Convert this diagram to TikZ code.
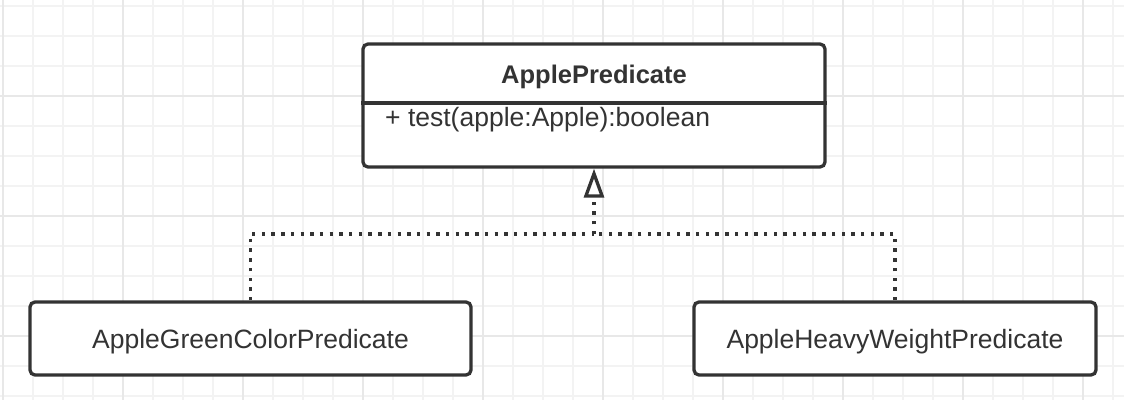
\documentclass[tikz,border=0pt]{standalone}
\usepackage{fontspec}
\setmainfont{Liberation Sans}
\usetikzlibrary{arrows.meta}
\definecolor{ink}{HTML}{333333}
\definecolor{gridminor}{HTML}{F3F3F3}
\definecolor{gridmajor}{HTML}{E8E8E8}
\tikzset{
  umlbox/.style={draw=ink, line width=3.3pt, rounded corners=5pt, fill=white,
    text=ink, font=\fontsize{26.5}{30}\selectfont, inner sep=0pt,
    text height=21pt, text depth=2pt},
  realize/.style={draw=ink, line width=3.3pt, dash pattern=on 3.4pt off 6.3pt},
  uml text/.style={text=ink, inner sep=0pt},
}
\begin{document}
\begin{tikzpicture}[x=1pt,y=-1pt]
\fill[white] (0,0) rectangle (1124,400);
\useasboundingbox (0,0) rectangle (1124,400);
% grid
\foreach \i in {0,...,37} \draw[gridminor, line width=2pt] (3+30*\i,0) -- (3+30*\i,400);
\foreach \i in {0,...,13} \draw[gridminor, line width=2pt] (0,6+30*\i) -- (1124,6+30*\i);
\foreach \i in {0,...,9} \draw[gridmajor, line width=2pt] (3+120*\i,0) -- (3+120*\i,400);
\foreach \y in {96,216,336} \draw[gridmajor, line width=2pt] (0,\y) -- (1124,\y);
% class box
\node[umlbox, minimum width=462pt, minimum height=123pt] (top) at (594,105.5) {};
\coordinate (div) at (594,103);
\draw[ink, line width=3.3pt] (top.west |- div) -- (top.east |- div);
\node[uml text, font=\bfseries\fontsize{25.5}{30}\selectfont, anchor=base] (title) at (594,83) {ApplePredicate};
\node[uml text, font=\fontsize{26.5}{30}\selectfont, anchor=base west] (method) at (385,126) {+ test(apple:Apple):boolean};
% implementations
\node[umlbox, minimum width=441pt, minimum height=73pt] (green) at (250.5,338.5) {AppleGreenColorPredicate};
\node[umlbox, minimum width=402pt, minimum height=73pt] (heavy) at (895,338.5) {AppleHeavyWeightPredicate};
% realization connectors
\coordinate (join) at (594,234);
\draw[realize] (green.north) |- (join);
\draw[realize] (heavy.north) |- (join);
\draw[realize, -{Triangle[fill=white, length=29pt, width=20pt, line width=3.3pt]}] (join) -- (top.south);
\end{tikzpicture}
\end{document}
